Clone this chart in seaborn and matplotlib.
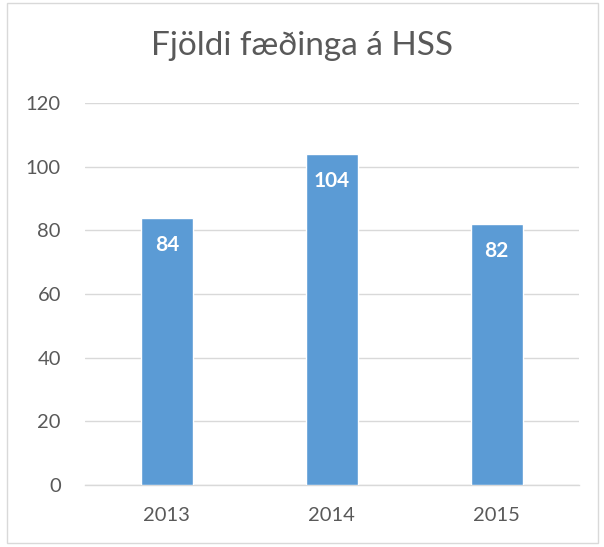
import matplotlib
matplotlib.use("Agg")
import matplotlib.pyplot as plt
import seaborn as sns
import pandas as pd
from matplotlib.patches import Rectangle

years = ["2013", "2014", "2015"]
births = [84, 104, 82]
yticks = [0, 20, 40, 60, 80, 100, 120]
title = "Fjöldi fæðinga á HSS"

sns.set_theme(style="white")
plt.rcParams['font.family'] = ['Lato', 'DejaVu Sans']

df = pd.DataFrame({"year": years, "births": births})

fig = plt.figure(figsize=(6.04, 5.47), dpi=100)
ax = fig.add_axes([84.5/604, 1-485/547, (579-84.5)/604, (485-103)/547])
sns.barplot(data=df, x="year", y="births", color="#5B9BD5", saturation=1,
            width=0.315, ax=ax, zorder=3)
ax.set_ylim(0, 120)
ax.set_yticks(yticks)
ax.set_xlim(-0.5, 2.5)
ax.yaxis.grid(True, color="#D9D9D9", linewidth=1, zorder=0)
ax.set_axisbelow(True)
for s in ["top", "right", "left"]:
    ax.spines[s].set_visible(False)
ax.spines["bottom"].set_color("#D9D9D9")
ax.spines["bottom"].set_linewidth(1)
ax.tick_params(axis="both", length=0, labelsize=14.5, colors="#595959")
ax.tick_params(axis="y", pad=17)
ax.tick_params(axis="x", pad=16)
ax.set_xlabel("")
ax.set_ylabel("")
for c in ax.containers:
    ax.bar_label(c, labels=[str(v) for v in births], padding=-27, color="white",
                 fontweight="bold", fontsize=15)
fig.text(0.5, 1-46/547, title, ha="center", va="center", fontsize=24, color="#595959")
fig.patches.append(Rectangle((7/604, 1-543/547), 591/604, 540/547, transform=fig.transFigure,
                             fill=False, edgecolor="#D9D9D9", linewidth=1))
fig.savefig("out.png", dpi=100)
